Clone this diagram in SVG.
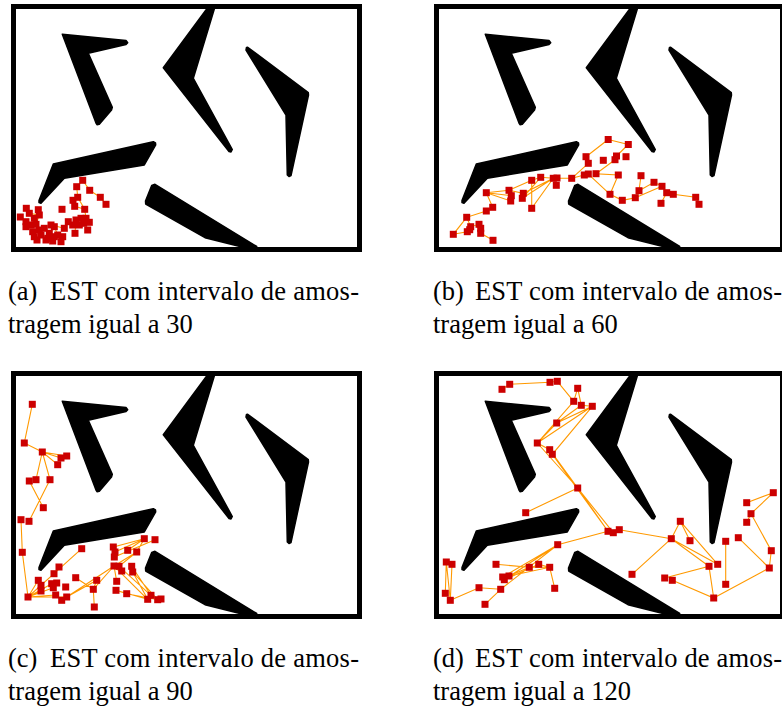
<svg xmlns="http://www.w3.org/2000/svg" width="782" height="711" viewBox="0 0 782 711">
<style>
.frame{fill:#fff;stroke:#000;stroke-width:5}
.obs{fill:#000;stroke:#000;stroke-width:1.5;stroke-linejoin:round}
.edges{fill:none;stroke:#ff9900;stroke-width:1.1;stroke-linecap:round}
.cap{font-family:"Liberation Serif","Times New Roman",serif;font-size:26.5px;fill:#000}
</style>
<defs>
<g id="env">
<rect class="frame" x="13.5" y="6.5" width="346" height="243"/>
<polygon class="obs" points="62.3,34.3 126,40.5 127.7,42.7 126,44.5 88.3,53.3 112.3,107.3 111.5,110 99.3,124.3 97,124.7 96,123"/>
<polygon class="obs" points="206.7,9 214.3,9 193.3,78.3 232.3,149.5 231,152 229,151.5 163.3,67.7"/>
<polygon class="obs" points="247.7,47.3 308.3,92.7 308.5,95 291,175.5 289,176.5 287.3,175 286,115 246,50 246.5,47.5"/>
<polygon class="obs" points="53.3,164 153.3,141.7 155.5,143 155.7,145 144.3,165 64.3,178.3 41,203.3 39,202.5 39,200.5"/>
<polygon class="obs" points="155,184.3 256.7,246.5 240,246.5 205,237.7 145.7,204 145.5,201 151.7,185.5"/>
</g>
<rect id="s" x="-3.5" y="-3.5" width="7" height="7" fill="#cc0000"/>
</defs>

<g id="panel-a">
<use href="#env"/>
<g id="edges-a" class="edges"><path d="M82.7 180.3L76.7 186.7M82.7 180.3L89.7 190.3L100.3 197.3L106 204.3M76.7 186.7L77.7 197.3L73 200.3M77.7 197.3L84.7 209.3L74.7 206.3M84.7 209.3L86 218.3M76 220L75 233.3M26.3 208.3L29.3 213.3L39.3 215L38.3 209.7M34.3 218.3L36 224.3L39.3 215M64.3 228.3L51 225M54.3 226.7L57.7 235L61 241.7M54.3 236.7L62.7 236.7M49.3 233.3L52.7 241M68.3 221.7L72.7 225M39.3 230L41 235"/></g>
<g id="nodes-a">
<use href="#s" x="82.7" y="180.3"/><use href="#s" x="76.7" y="186.7"/><use href="#s" x="89.7" y="190.3"/><use href="#s" x="100.3" y="197.3"/><use href="#s" x="106" y="204.3"/><use href="#s" x="77.7" y="197.3"/><use href="#s" x="73" y="200.3"/><use href="#s" x="74.7" y="206.3"/><use href="#s" x="84.7" y="209.3"/><use href="#s" x="62" y="209.3"/><use href="#s" x="26.3" y="208.3"/><use href="#s" x="38.3" y="209.7"/><use href="#s" x="20.3" y="217"/><use href="#s" x="29.3" y="213.3"/><use href="#s" x="34.3" y="218.3"/><use href="#s" x="39.3" y="215"/><use href="#s" x="26" y="221.7"/><use href="#s" x="31" y="225"/><use href="#s" x="36" y="224.3"/><use href="#s" x="26" y="226.7"/><use href="#s" x="68.3" y="221.7"/><use href="#s" x="76" y="220"/><use href="#s" x="81" y="218.3"/><use href="#s" x="86" y="218.3"/><use href="#s" x="83.7" y="223.3"/><use href="#s" x="89.3" y="222.3"/><use href="#s" x="79.3" y="225"/><use href="#s" x="72.7" y="225"/><use href="#s" x="87.7" y="230"/><use href="#s" x="75" y="233.3"/><use href="#s" x="64.3" y="228.3"/><use href="#s" x="54.3" y="226.7"/><use href="#s" x="51" y="225"/><use href="#s" x="44.3" y="228.3"/><use href="#s" x="39.3" y="230"/><use href="#s" x="32.7" y="231.7"/><use href="#s" x="34.3" y="236.7"/><use href="#s" x="41" y="235"/><use href="#s" x="49.3" y="233.3"/><use href="#s" x="47.7" y="238.3"/><use href="#s" x="54.3" y="236.7"/><use href="#s" x="57.7" y="235"/><use href="#s" x="62.7" y="236.7"/><use href="#s" x="61" y="241.7"/><use href="#s" x="52.7" y="241"/><use href="#s" x="37" y="240"/><use href="#s" x="46" y="240"/>
</g>
</g>

<g id="panel-b" transform="translate(423,0)">
<use href="#env"/>
<g id="edges-b" class="edges"><path d="M185.2 139.5L205.3 144.5L193.5 156M185.2 139.5L163 156.7L165.3 163.3L148.7 178.3M192 159.7L173 173.7L195.3 175L187 194.3L165.3 174L148.7 178.3M161.3 175L148.7 178.3M187 194.3L199.3 200.3L212.3 197.7L216 190.7L218 175.7M212.3 197.7L239 186.3M216 190.7L231 182.3L239 186.3L243.7 192.7L250.3 194.3L272.7 197.3L276 204.3M243.7 192.7L238 203.3M148.7 178.3L130.3 178.3L117.7 177.3L108.7 180.3L86 190.3L63.3 192.7M130.3 178.3L100.3 193.3L86 190.3M130.3 178.3L99.3 198.3L117.7 177.3M130.3 178.3L108.7 208.3L108.7 180.3M87.7 201L63.3 192.7L88.3 195.7M63.3 192.7L69.7 207.3L63.3 211L43.7 217.3L47.7 226.7L56 224.3L57.7 228.3M43.7 217.3L30.3 234.3L44.3 231.7M57.7 233.3L70 240.3"/></g>
<g id="nodes-b">
<use href="#s" x="185.2" y="139.5"/><use href="#s" x="205.3" y="144.5"/><use href="#s" x="163" y="156.7"/><use href="#s" x="165.3" y="163.3"/><use href="#s" x="180.3" y="160.3"/><use href="#s" x="193.5" y="156"/><use href="#s" x="192" y="159.7"/><use href="#s" x="203" y="156.7"/><use href="#s" x="161.3" y="175"/><use href="#s" x="165.3" y="174"/><use href="#s" x="173" y="173.7"/><use href="#s" x="195.3" y="175"/><use href="#s" x="148.7" y="178.3"/><use href="#s" x="130.3" y="178.3"/><use href="#s" x="133.3" y="185.3"/><use href="#s" x="134" y="178"/><use href="#s" x="117.7" y="177.3"/><use href="#s" x="108.7" y="180.3"/><use href="#s" x="100.3" y="193.3"/><use href="#s" x="99.3" y="198.3"/><use href="#s" x="108.7" y="208.3"/><use href="#s" x="86" y="190.3"/><use href="#s" x="88.3" y="195.7"/><use href="#s" x="87.7" y="201"/><use href="#s" x="63.3" y="192.7"/><use href="#s" x="69.7" y="207.3"/><use href="#s" x="63.3" y="211"/><use href="#s" x="43.7" y="217.3"/><use href="#s" x="47.7" y="226.7"/><use href="#s" x="56" y="224.3"/><use href="#s" x="57.7" y="228.3"/><use href="#s" x="57.7" y="233.3"/><use href="#s" x="44.3" y="231.7"/><use href="#s" x="46.7" y="229.7"/><use href="#s" x="30.3" y="234.3"/><use href="#s" x="70" y="240.3"/><use href="#s" x="187" y="194.3"/><use href="#s" x="199.3" y="200.3"/><use href="#s" x="212.3" y="197.7"/><use href="#s" x="216" y="190.7"/><use href="#s" x="218" y="175.7"/><use href="#s" x="231" y="182.3"/><use href="#s" x="239" y="186.3"/><use href="#s" x="243.7" y="192.7"/><use href="#s" x="250.3" y="194.3"/><use href="#s" x="238" y="203.3"/><use href="#s" x="272.7" y="197.3"/><use href="#s" x="276" y="204.3"/>
</g>
</g>

<g id="panel-c" transform="translate(0,367)">
<use href="#env"/>
<g id="edges-c" class="edges"><path d="M32.3 37.3L24.3 76L42.3 85L66.7 89M42.3 85L61 91M42.3 85L57.7 97.7M42.3 85L36 112.7M42.3 85L50 112.7L29 154.3M29.3 114L43.3 140.7M21 152.7L22.3 185.3L28 230L38.3 213.3M28 230L41 218.3M28 230L41 224M28 230L51.7 216.7M28 230L53.3 220.7M28 230L55.7 228M28 230L66.7 230M28 230L54 206.7L81.7 181.7M59 200L54 206.7M66.7 230L114 199M66.7 230L96.7 213.3L93.3 222.3L94.3 240M75.7 210.7L93.3 222.3L114 199M113.3 180L144.3 171.7M115 185L144.3 171.7M127.7 183.3L144.3 171.7M136.7 185L144.3 171.7M114.3 190L155 172.7M114 199L136.7 185L119 199.3L151 228.3M131.7 199.3L151 228.3M132.7 205L147.7 232.3L114 199L116.7 214.3M116 223.3L147.7 232.3M116 223.3L126.7 226.7L157.7 232.7L132.7 205"/></g>
<g id="nodes-c">
<use href="#s" x="32.3" y="37.3"/><use href="#s" x="24.3" y="76"/><use href="#s" x="42.3" y="85"/><use href="#s" x="66.7" y="89"/><use href="#s" x="61" y="91"/><use href="#s" x="57.7" y="97.7"/><use href="#s" x="29.3" y="114"/><use href="#s" x="36" y="112.7"/><use href="#s" x="50" y="112.7"/><use href="#s" x="43.3" y="140.7"/><use href="#s" x="21" y="152.7"/><use href="#s" x="29" y="154.3"/><use href="#s" x="22.3" y="185.3"/><use href="#s" x="28" y="230"/><use href="#s" x="81.7" y="181.7"/><use href="#s" x="59" y="200"/><use href="#s" x="54" y="206.7"/><use href="#s" x="38.3" y="213.3"/><use href="#s" x="41" y="218.3"/><use href="#s" x="41" y="224"/><use href="#s" x="51.7" y="216.7"/><use href="#s" x="56.7" y="216"/><use href="#s" x="53.3" y="220.7"/><use href="#s" x="65.7" y="220"/><use href="#s" x="55.7" y="228"/><use href="#s" x="61.7" y="233.3"/><use href="#s" x="66.7" y="230"/><use href="#s" x="75.7" y="210.7"/><use href="#s" x="96.7" y="213.3"/><use href="#s" x="93.3" y="222.3"/><use href="#s" x="94.3" y="240"/><use href="#s" x="113.3" y="180"/><use href="#s" x="115" y="185"/><use href="#s" x="114.3" y="190"/><use href="#s" x="127.7" y="183.3"/><use href="#s" x="136.7" y="185"/><use href="#s" x="144.3" y="171.7"/><use href="#s" x="155" y="172.7"/><use href="#s" x="114" y="199"/><use href="#s" x="119" y="199.3"/><use href="#s" x="121.7" y="204"/><use href="#s" x="131.7" y="199.3"/><use href="#s" x="132.7" y="205"/><use href="#s" x="116.7" y="214.3"/><use href="#s" x="116" y="223.3"/><use href="#s" x="126.7" y="226.7"/><use href="#s" x="151" y="228.3"/><use href="#s" x="147.7" y="232.3"/><use href="#s" x="157.7" y="232.7"/><use href="#s" x="161" y="232"/>
</g>
</g>

<g id="panel-d" transform="translate(423,367)">
<use href="#env"/>
<g id="edges-d" class="edges"><path d="M79 22.3L86.7 17.3L127 15.3L134.3 14.3L150.7 34.3L154.7 21.3L158.3 38.3L169.3 39.3L133.7 56M169.3 39.3L114.3 76M169.3 39.3L129.3 87.3L185 164.3M158.3 38.3L133.7 56L114.3 76L150.7 34.3M114.3 76L126.7 82.7L154.7 121L114.3 76M154.7 121L190.3 165.7M154.7 121L185 164.3L196.3 162.7L248.3 171.7M154.7 121L102.7 145.7M185 164.3L134.7 177.7L79.7 210M134.7 177.7L81.3 212.7M134.7 177.7L77.7 222.3L56 220.7L27.3 233.3M77.7 222.3L62 237.3M73 197.3L106.3 200.3L126.7 200.3L115.7 197.3L81.3 212.7M106.3 200.3L86 209L126.7 200.3L131.7 221.3M23.3 195L22.3 226.3M23.3 195L27.3 233.3L29 197.3M248.3 171.7L209 207.3M248.3 171.7L257.3 154.3L267 173.7M248.3 171.7L286 199.3L241.7 211M248.3 171.7L294.7 197.3L257.3 154.3M249.3 213.3L290.7 231L286 199.3M302.7 174.3L302.7 217.3M290.7 231L346.3 201L315.3 170.7M346.3 201L348.3 183.7L328 146.7L350.3 125.7L323.7 135.7M328 146.7L323.7 155.3"/></g>
<g id="nodes-d">
<use href="#s" x="79" y="22.3"/><use href="#s" x="86.7" y="17.3"/><use href="#s" x="127" y="15.3"/><use href="#s" x="134.3" y="14.3"/><use href="#s" x="154.7" y="21.3"/><use href="#s" x="150.7" y="34.3"/><use href="#s" x="158.3" y="38.3"/><use href="#s" x="169.3" y="39.3"/><use href="#s" x="133.7" y="56"/><use href="#s" x="114.3" y="76"/><use href="#s" x="126.7" y="82.7"/><use href="#s" x="129.3" y="87.3"/><use href="#s" x="154.7" y="121"/><use href="#s" x="102.7" y="145.7"/><use href="#s" x="185" y="164.3"/><use href="#s" x="190.3" y="165.7"/><use href="#s" x="196.3" y="162.7"/><use href="#s" x="134.7" y="177.7"/><use href="#s" x="73" y="197.3"/><use href="#s" x="106.3" y="200.3"/><use href="#s" x="115.7" y="197.3"/><use href="#s" x="126.7" y="200.3"/><use href="#s" x="79.7" y="210"/><use href="#s" x="86" y="209"/><use href="#s" x="81.3" y="212.7"/><use href="#s" x="77.7" y="222.3"/><use href="#s" x="56" y="220.7"/><use href="#s" x="62" y="237.3"/><use href="#s" x="131.7" y="221.3"/><use href="#s" x="23.3" y="195"/><use href="#s" x="29" y="197.3"/><use href="#s" x="22.3" y="226.3"/><use href="#s" x="27.3" y="233.3"/><use href="#s" x="209" y="207.3"/><use href="#s" x="257.3" y="154.3"/><use href="#s" x="248.3" y="171.7"/><use href="#s" x="267" y="173.7"/><use href="#s" x="286" y="199.3"/><use href="#s" x="294.7" y="197.3"/><use href="#s" x="241.7" y="211"/><use href="#s" x="249.3" y="213.3"/><use href="#s" x="290.7" y="231"/><use href="#s" x="302.7" y="174.3"/><use href="#s" x="302.7" y="217.3"/><use href="#s" x="315.3" y="170.7"/><use href="#s" x="346.3" y="201"/><use href="#s" x="348.3" y="183.7"/><use href="#s" x="323.7" y="135.7"/><use href="#s" x="350.3" y="125.7"/><use href="#s" x="328" y="146.7"/><use href="#s" x="323.7" y="155.3"/>
</g>
</g>

<g id="captions" class="cap">
<text x="8" y="300">(a)</text>
<text x="50" y="300" textLength="309" lengthAdjust="spacing">EST com intervalo de amos-</text>
<text x="8" y="333">tragem igual a 30</text>
<text x="433" y="300">(b)</text>
<text x="475" y="300" textLength="307" lengthAdjust="spacing">EST com intervalo de amos-</text>
<text x="433" y="333">tragem igual a 60</text>
<text x="8" y="667">(c)</text>
<text x="50" y="667" textLength="309" lengthAdjust="spacing">EST com intervalo de amos-</text>
<text x="8" y="700">tragem igual a 90</text>
<text x="433" y="667">(d)</text>
<text x="475" y="667" textLength="307" lengthAdjust="spacing">EST com intervalo de amos-</text>
<text x="433" y="700">tragem igual a 120</text>
</g>
</svg>
